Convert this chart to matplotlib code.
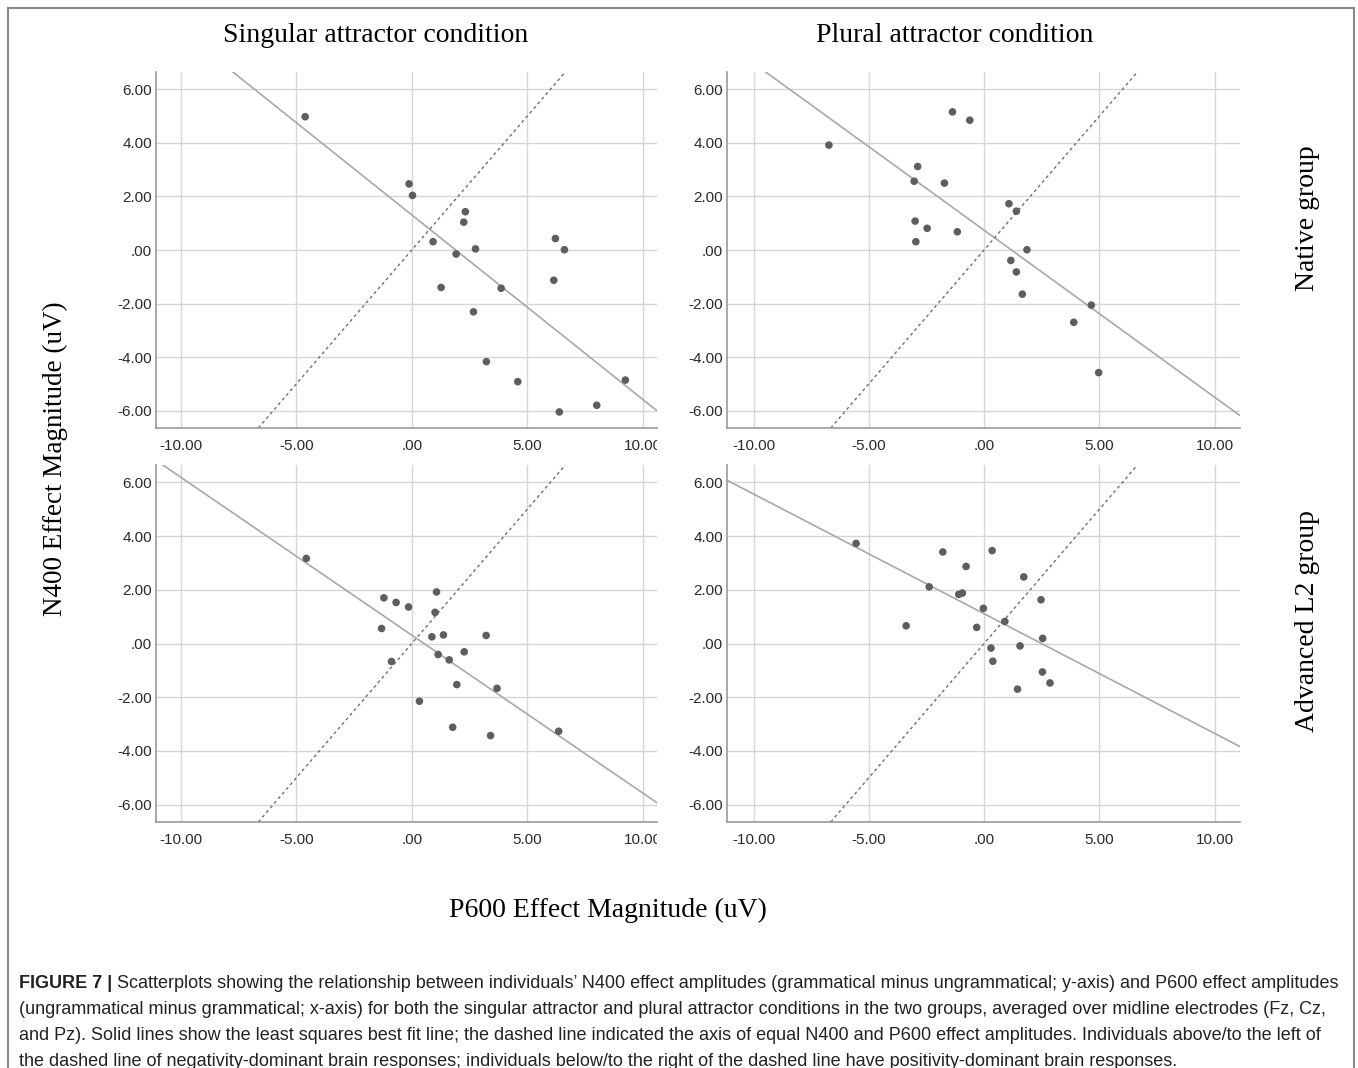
import numpy as np
import matplotlib.pyplot as plt
from matplotlib.ticker import FuncFormatter
from matplotlib.patches import Rectangle
from matplotlib.transforms import Bbox, TransformedBbox

W, H = 1358, 1068

# singular attractor / native group
sing_nat_x = [-4.62, -0.12, 0.03, 2.32, 2.25, 0.92, 1.92, 2.76, 6.22, 6.61,
              6.15, 1.27, 3.87, 2.67, 3.23, 4.59, 9.25, 8.01, 6.39]
sing_nat_y = [4.98, 2.47, 2.04, 1.43, 1.04, 0.31, -0.15, 0.04, 0.43, 0.01,
              -1.13, -1.40, -1.43, -2.31, -4.17, -4.92, -4.86, -5.80, -6.05]
sing_nat_fit = (-0.689, 1.31)   # slope, intercept

# plural attractor / native group
plur_nat_x = [-6.73, -1.37, -0.62, -2.88, -3.03, -1.72, 1.08, 1.40, -2.99, -2.47,
              -1.16, -2.96, 1.86, 1.16, 1.40, 1.66, 4.65, 3.89, 4.97]
plur_nat_y = [3.92, 5.16, 4.85, 3.12, 2.57, 2.50, 1.73, 1.45, 1.08, 0.81,
              0.68, 0.31, 0.01, -0.39, -0.82, -1.65, -2.06, -2.70, -4.58]
plur_nat_fit = (-0.624, 0.74)

# singular attractor / advanced L2 group
sing_l2_x = [-4.57, -1.21, -0.68, -0.14, 1.07, 1.01, -1.31, 0.87, 1.37, 3.22,
             1.14, 2.27, 1.62, -0.88, 1.95, 3.69, 0.33, 1.77, 3.41, 6.36]
sing_l2_y = [3.17, 1.70, 1.53, 1.36, 1.92, 1.16, 0.56, 0.25, 0.32, 0.30,
             -0.41, -0.31, -0.61, -0.67, -1.53, -1.67, -2.15, -3.12, -3.43, -3.27]
sing_l2_fit = (-0.588, 0.31)

# plural attractor / advanced L2 group
plur_l2_x = [-5.55, -1.79, 0.35, -0.78, 1.72, -2.38, -1.10, -0.94, 2.47, -0.03,
             0.90, -3.38, -0.32, 2.54, 1.56, 0.30, 0.38, 2.53, 2.86, 1.45]
plur_l2_y = [3.73, 3.41, 3.46, 2.87, 2.48, 2.11, 1.83, 1.88, 1.63, 1.31,
             0.82, 0.66, 0.60, 0.19, -0.09, -0.17, -0.66, -1.06, -1.47, -1.70]
plur_l2_fit = (-0.446, 1.11)

x_ticks = [-10, -5, 0, 5, 10]
y_ticks = [-6, -4, -2, 0, 2, 4, 6]

col_titles = ["Singular attractor condition", "Plural attractor condition"]
row_titles = ["Native group", "Advanced L2 group"]
x_label = "P600 Effect Magnitude (uV)"
y_label = "N400 Effect Magnitude (uV)"

caption_bold = "FIGURE 7 |"
caption_lines = [
    "Scatterplots showing the relationship between individuals\u2019 N400 effect amplitudes (grammatical minus ungrammatical; y-axis) and P600 effect amplitudes",
    "(ungrammatical minus grammatical; x-axis) for both the singular attractor and plural attractor conditions in the two groups, averaged over midline electrodes (Fz, Cz,",
    "and Pz). Solid lines show the least squares best fit line; the dashed line indicated the axis of equal N400 and P600 effect amplitudes. Individuals above/to the left of",
    "the dashed line of negativity-dominant brain responses; individuals below/to the right of the dashed line have positivity-dominant brain responses.",
]


def px(x, y):
    return x / W, 1 - y / H


def fmt(v, pos):
    s = "%.2f" % v
    if s in ("0.00", "-0.00"):
        return ".00"
    return s


fig = plt.figure(figsize=(W / 100, H / 100), dpi=100)

panels = [
    (sing_nat_x, sing_nat_y, sing_nat_fit, (156, 657, 72, 428), (-11.08, 10.62)),
    (plur_nat_x, plur_nat_y, plur_nat_fit, (727, 1240, 72, 428), (-11.15, 11.10)),
    (sing_l2_x, sing_l2_y, sing_l2_fit, (156, 657, 465, 822), (-11.08, 10.62)),
    (plur_l2_x, plur_l2_y, plur_l2_fit, (727, 1240, 465, 822), (-11.15, 11.10)),
]

for xs, ys, fit, (l, r, t, b), xlim in panels:
    ax = fig.add_axes([l / W, 1 - b / H, (r - l) / W, (b - t) / H])
    ax.set_xlim(*xlim)
    ax.set_ylim(-6.65, 6.65)
    ax.set_xticks(x_ticks)
    ax.set_yticks(y_ticks)
    ax.xaxis.set_major_formatter(FuncFormatter(fmt))
    ax.yaxis.set_major_formatter(FuncFormatter(fmt))
    ax.grid(True, color="#d6d6d6", lw=1.0)
    ax.set_axisbelow(True)
    for s in ["top", "right"]:
        ax.spines[s].set_visible(False)
    for s in ["left", "bottom"]:
        ax.spines[s].set_color("#9a9a9a")
        ax.spines[s].set_linewidth(1.2)
    ax.tick_params(length=0, labelsize=11, labelcolor="#2a2a2a")
    ax.tick_params(axis="x", pad=8)
    ax.tick_params(axis="y", pad=3)
    for lbl in ax.get_xticklabels() + ax.get_yticklabels():
        lbl.set_fontfamily("Liberation Sans")

    ax.axline((0, fit[1]), slope=fit[0], color="#a8a8a8", lw=1.2, zorder=2)
    ax.axline((0, 0), slope=1, color="#707070", lw=1.0, ls=(0, (2.2, 2.2)), zorder=2)
    ax.scatter(xs, ys, s=30, color="#5e5e5e", edgecolors="none", zorder=3)

    # the left column is cut off at its right border, like in the source figure
    if r < 700:
        clip = TransformedBbox(Bbox([[0, 0], [r / W, 1]]), fig.transFigure)
        for tk in ax.xaxis.get_major_ticks():
            tk.label1.set_clip_box(clip)
            tk.label1.set_clip_on(True)

serif = "Liberation Serif"
fig.text(*px(376, 36), col_titles[0], family=serif, fontsize=20, ha="center", va="center")
fig.text(*px(955, 36), col_titles[1], family=serif, fontsize=20, ha="center", va="center")
fig.text(*px(1307, 218), row_titles[0], family=serif, fontsize=20, rotation=90,
         ha="center", va="center")
fig.text(*px(1307, 621), row_titles[1], family=serif, fontsize=20, rotation=90,
         ha="center", va="center")
fig.text(*px(55, 459), y_label, family=serif, fontsize=19.5, rotation=90,
         ha="center", va="center")
fig.text(*px(608, 910), x_label, family=serif, fontsize=20, ha="center", va="center")

# outer frame
x0, y0 = px(8, 1075)
fig.patches.append(Rectangle((x0, y0), (1354 - 8) / W, (1075 - 8) / H,
                             transform=fig.transFigure, fill=False,
                             edgecolor="#8a8a8a", lw=1.5))

# caption
cap_fs = 13.0
cap_y = [983, 1009, 1035, 1061]
renderer = fig.canvas.get_renderer()
tb = fig.text(*px(19, cap_y[0]), caption_bold, family="Liberation Sans",
              fontsize=cap_fs, weight="bold", color="#222222", va="center")
bb = tb.get_window_extent(renderer)
fig.text(bb.x1 / W + 5 / W, px(0, cap_y[0])[1], caption_lines[0],
         family="Liberation Sans", fontsize=cap_fs, color="#222222", va="center")
for line, yy in zip(caption_lines[1:], cap_y[1:]):
    fig.text(*px(19, yy), line, family="Liberation Sans", fontsize=cap_fs,
             color="#222222", va="center")

fig.savefig("out.png", dpi=100)
